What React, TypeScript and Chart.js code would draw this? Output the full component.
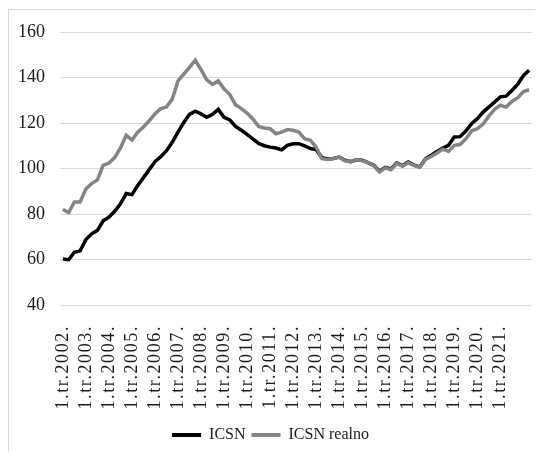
import React, { useEffect, useRef } from "react";
import { Chart, registerables } from "chart.js";

Chart.register(...registerables);

const years = [2002, 2003, 2004, 2005, 2006, 2007, 2008, 2009, 2010, 2011, 2012, 2013, 2014, 2015, 2016, 2017, 2018, 2019, 2020, 2021, 2022];
const quarters = ["1", "2", "3", "4"];
const pointCount = 82;

const shownTickLabels = [
  "1.tr.2002.", "1.tr.2003.", "1.tr.2004.", "1.tr.2005.", "1.tr.2006.",
  "1.tr.2007.", "1.tr.2008.", "1.tr.2009.", "1.tr.2010.", "1.tr.2011.",
  "1.tr.2012.", "1.tr.2013.", "1.tr.2014.", "1.tr.2015.", "1.tr.2016.",
  "1.tr.2017.", "1.tr.2018.", "1.tr.2019.", "1.tr.2020.", "1.tr.2021.",
];

const categories: string[] = [];
years.forEach((y) => quarters.forEach((q) => categories.push(`${q}.tr.${y}.`)));
const labels = categories.slice(0, pointCount);

const icsn = [
  60.2, 59.9, 63.2, 63.8, 68.8, 71.3, 72.8, 77.0, 78.6, 81.2,
  84.5, 89.0, 88.5, 92.5, 96.0, 99.5, 103.0, 105.2, 107.8, 111.5,
  116.0, 120.2, 123.8, 125.2, 124.0, 122.5, 123.8, 126.0, 122.5, 121.3,
  118.5, 116.8, 115.0, 113.0, 111.0, 110.0, 109.4, 109.0, 108.2, 110.2,
  110.9, 110.9, 110.0, 108.8, 108.3, 104.8, 104.2, 104.4, 105.0, 103.6,
  103.0, 103.8, 103.6, 102.6, 101.4, 98.8, 100.5, 99.8, 102.5, 101.2,
  102.8, 101.5, 100.7, 104.3, 105.8, 107.5, 109.0, 110.2, 113.9, 114.0,
  116.5, 119.7, 121.9, 124.8, 127.0, 129.2, 131.5, 131.8, 134.3, 137.0,
  140.8, 143.2,
];

const icsnRealno = [
  82.1, 80.6, 85.3, 85.3, 91.0, 93.4, 95.0, 101.4, 102.4, 104.8,
  109.0, 114.6, 112.5, 116.0, 118.2, 121.0, 124.0, 126.3, 127.0, 130.5,
  138.5, 141.5, 144.5, 147.6, 143.5, 139.0, 137.0, 138.5, 135.0, 132.5,
  128.0, 126.3, 124.4, 121.8, 118.5, 117.8, 117.5, 115.3, 116.0, 117.1,
  116.8, 116.0, 113.1, 112.4, 109.4, 104.3, 104.0, 104.4, 105.0, 103.4,
  103.0, 103.9, 103.4, 102.6, 101.2, 98.5, 100.3, 99.5, 102.2, 101.0,
  102.5, 101.4, 100.5, 104.0, 105.3, 106.8, 108.5, 107.5, 110.2, 110.5,
  113.0, 116.5, 117.5, 119.5, 123.0, 126.0, 127.8, 127.0, 129.5, 131.0,
  133.8, 134.6,
];

const yMin = 40;
const yMax = 160;
const yStep = 20;

const FONT = "'Liberation Serif', 'Times New Roman', serif";
const TEXT = "#1a1a1a";

export default function App() {
  const ref = useRef<HTMLCanvasElement | null>(null);

  useEffect(() => {
    if (!ref.current) return;
    const chart: any = new Chart(ref.current, {
      type: "line",
      data: {
        labels,
        datasets: [
          {
            label: "ICSN",
            data: icsn,
            borderColor: "#000000",
            backgroundColor: "#000000",
            borderWidth: 3.5,
            pointRadius: 0,
            tension: 0,
            order: 1,
          },
          {
            label: "ICSN realno",
            data: icsnRealno,
            borderColor: "#848484",
            backgroundColor: "#848484",
            borderWidth: 3.5,
            pointRadius: 0,
            tension: 0,
            order: 0,
          },
        ],
      },
      options: {
        animation: false,
        responsive: false,
        maintainAspectRatio: false,
        layout: { padding: { top: 22, right: 11, left: 0, bottom: 0 } },
        plugins: {
          tooltip: { enabled: false },
          legend: {
            position: "bottom",
            labels: {
              font: { family: FONT, size: 16 },
              color: TEXT,
              boxWidth: 29,
              boxHeight: 4,
              padding: 6,
              generateLabels: (c: any) =>
                c.data.datasets.map((ds: any, i: number) => ({
                  text: ds.label,
                  fillStyle: ds.borderColor,
                  strokeStyle: ds.borderColor,
                  lineWidth: 0,
                  hidden: false,
                  datasetIndex: i,
                  fontColor: TEXT,
                })),
            },
          },
        },
        scales: {
          x: {
            type: "category",
            offset: true,
            grid: { display: false },
            border: { display: false },
            afterFit: (scale: any) => {
              scale.height = 116;
              scale.paddingLeft = 0;
              scale.paddingRight = 0;
              scale.paddingTop = 0;
              scale.paddingBottom = 0;
              if (!scale._lsWrapped) {
                const orig = scale.drawLabels.bind(scale);
                scale.drawLabels = (area: any) => {
                  const ctx = scale.ctx;
                  ctx.save();
                  (ctx as any).letterSpacing = "1.6px";
                  orig(area);
                  ctx.restore();
                };
                scale._lsWrapped = true;
              }
            },
            ticks: {
              autoSkip: false,
              maxRotation: 90,
              minRotation: 90,
              padding: 12,
              color: TEXT,
              font: { family: FONT, size: 18 },
              callback: (_v: any, i: number) =>
                shownTickLabels.includes(labels[i]) ? labels[i] : "",
            },
          },
          y: {
            min: yMin,
            max: yMax,
            grid: { color: "#d9d9d9", lineWidth: 1, drawTicks: false },
            border: { display: false },
            afterFit: (scale: any) => {
              scale.width = 51;
              scale.paddingLeft = 0;
              scale.paddingRight = 0;
              scale.paddingTop = 0;
              scale.paddingBottom = 0;
            },
            ticks: {
              stepSize: yStep,
              padding: 15,
              color: TEXT,
              font: { family: FONT, size: 18 },
            },
          },
        },
      },
    });
    return () => chart.destroy();
  }, []);

  return (
    <div
      style={{
        position: "relative",
        top: 1,
        width: 535,
        height: 444,
        boxSizing: "border-box",
        borderLeft: "1px solid #d9d9d9",
        borderTop: "1px solid #d9d9d9",
        overflow: "hidden",
      }}
    >
      <canvas ref={ref} width={534} height={443} style={{ display: "block" }} />
    </div>
  );
}
